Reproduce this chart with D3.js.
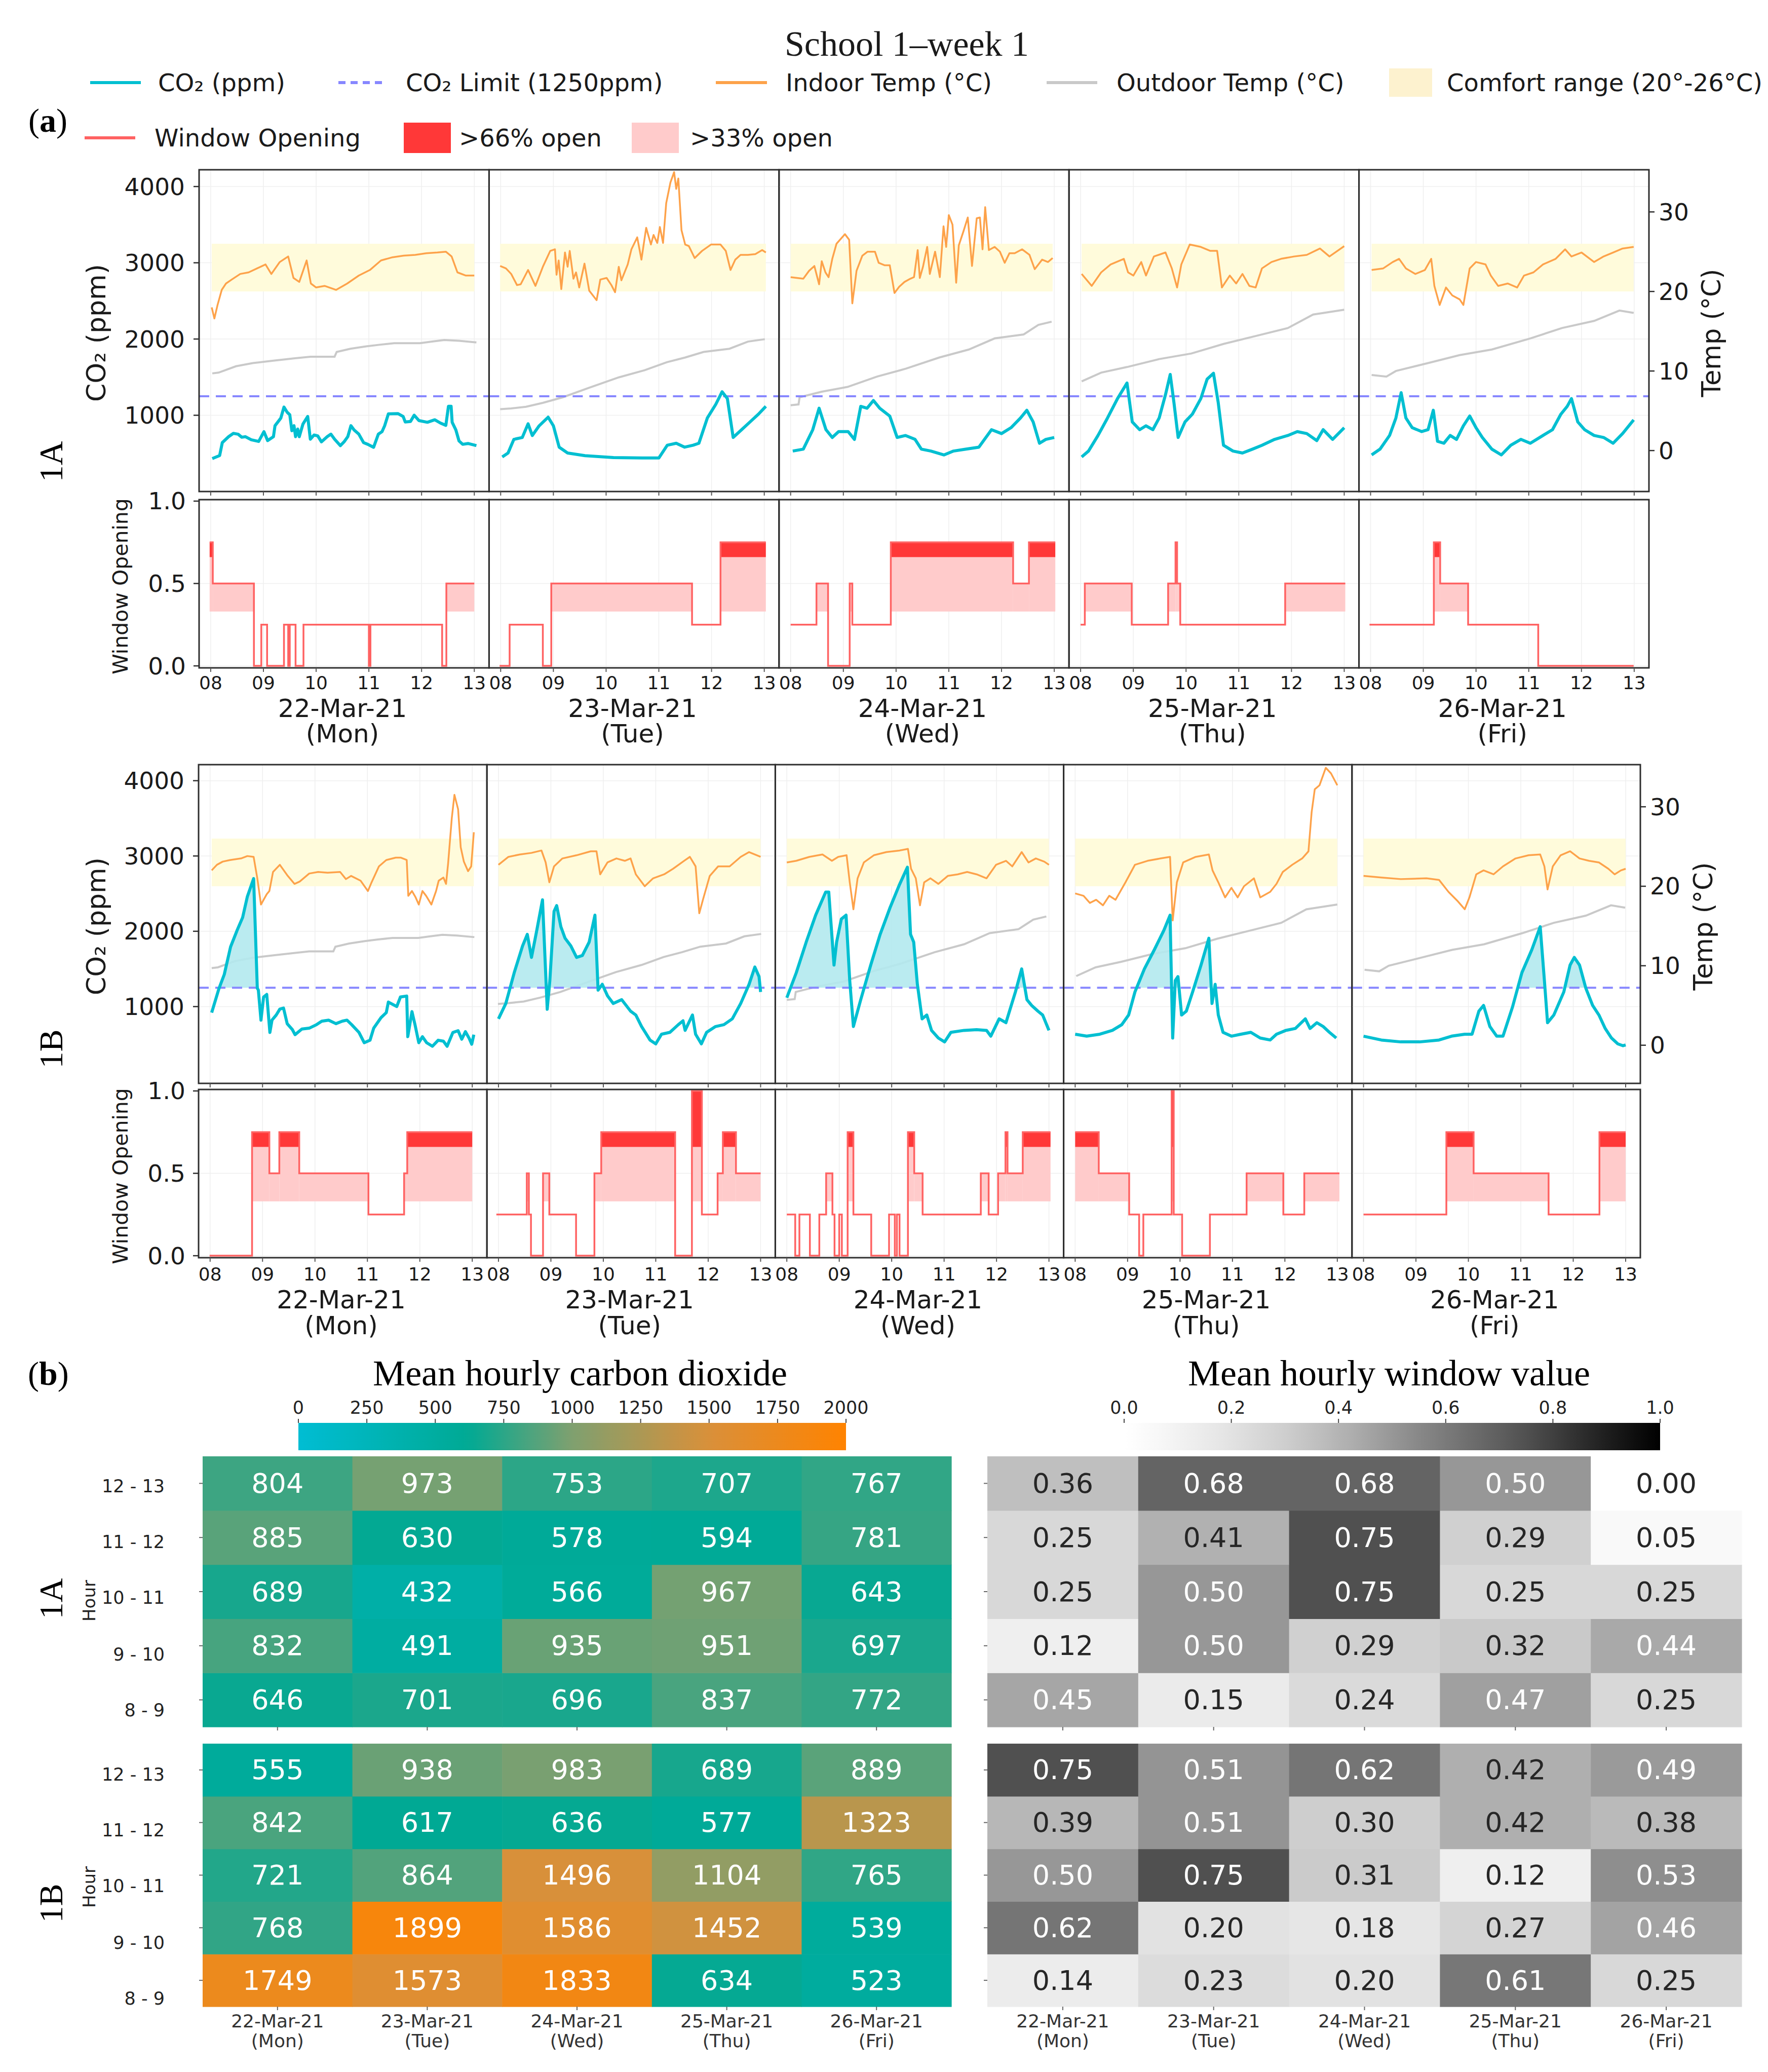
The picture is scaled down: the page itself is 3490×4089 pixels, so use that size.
<!DOCTYPE html>
<html><head><meta charset="utf-8">
<script src="https://cdn.jsdelivr.net/npm/d3@7"></script>
<style>body{margin:0;background:#fff}svg{display:block}</style>
</head><body>
<svg id="c" width="3490" height="4089"></svg>
<script>
// ---------------- DATA ----------------
const days = ["22-Mar-21","23-Mar-21","24-Mar-21","25-Mar-21","26-Mar-21"];
const weekdays = ["(Mon)","(Tue)","(Wed)","(Thu)","(Fri)"];
const hourTicks = [8,9,10,11,12,13];
const hourTickLabels = ["08","09","10","11","12","13"];
const co2Ticks = [1000,2000,3000,4000];
const tempTicks = [0,10,20,30];
const winTicks = [0,0.5,1.0];
const hourBins = ["8 - 9","9 - 10","10 - 11","11 - 12","12 - 13"];
const co2Limit = 1250;
const comfortRange = [20,26];
const openThresholds = [0.33,0.66];
const co2BarTicks = [0,250,500,750,1000,1250,1500,1750,2000];
const winBarTicks = [0,0.2,0.4,0.6,0.8,1.0];

// CO2 (ppm) per day, [hour, ppm]
const co2_1A = [
 [[8.03,432],[8.17,472],[8.22,641],[8.34,719],[8.43,763],[8.52,752],[8.59,712],[8.66,719],[8.77,679],[8.91,657],[9.01,785],[9.08,668],[9.19,719],[9.22,863],[9.33,963],[9.39,1107],[9.45,1040],[9.5,1007],[9.54,797],[9.58,863],[9.61,719],[9.65,819],[9.68,719],[9.75,885],[9.84,985],[9.89,686],[9.96,741],[10.03,730],[10.1,652],[10.21,719],[10.28,752],[10.35,686],[10.46,602],[10.53,652],[10.6,719],[10.66,863],[10.72,807],[10.81,752],[10.9,641],[10.98,619],[11.09,580],[11.18,752],[11.25,785],[11.3,863],[11.37,1018],[11.55,1022],[11.65,985],[11.69,912],[11.79,919],[11.86,1001],[11.95,930],[12.11,908],[12.25,941],[12.36,897],[12.46,868],[12.51,1118],[12.56,1118],[12.58,908],[12.65,808],[12.71,664],[12.78,619],[12.88,630],[13.04,602]],
 [[8.03,454],[8.14,505],[8.25,684],[8.41,709],[8.52,888],[8.60,735],[8.73,862],[8.90,975],[9.0,862],[9.11,582],[9.27,505],[9.6,470],[10.14,445],[10.68,440],[11.0,440],[11.16,607],[11.33,633],[11.49,582],[11.65,607],[11.76,633],[11.92,964],[12.08,1143],[12.2,1308],[12.30,1219],[12.41,709],[12.57,811],[12.73,913],[12.89,1015],[13.03,1117]],
 [[8.04,531],[8.24,556],[8.42,811],[8.54,1092],[8.67,811],[8.79,709],[8.91,786],[9.09,786],[9.21,684],[9.33,1117],[9.45,1092],[9.57,1194],[9.69,1092],[9.88,990],[10.02,709],[10.18,735],[10.36,684],[10.48,556],[10.66,531],[10.91,480],[11.09,531],[11.33,556],[11.57,582],[11.81,811],[12.0,760],[12.18,837],[12.36,964],[12.48,1066],[12.6,913],[12.72,633],[12.84,684],[13.0,709]],
 [[8.02,454],[8.15,531],[8.33,735],[8.51,964],[8.70,1219],[8.88,1423],[8.98,913],[9.12,811],[9.24,862],[9.37,811],[9.49,964],[9.61,1270],[9.70,1535],[9.77,1168],[9.85,709],[9.98,913],[10.12,1015],[10.28,1219],[10.40,1474],[10.52,1551],[10.61,1168],[10.71,607],[10.89,531],[11.07,505],[11.26,556],[11.44,607],[11.68,684],[11.93,735],[12.11,786],[12.29,760],[12.48,668],[12.60,811],[12.78,684],[13.0,837]],
 [[8.02,480],[8.18,556],[8.36,735],[8.48,964],[8.58,1296],[8.67,964],[8.79,837],[8.97,786],[9.09,811],[9.19,1066],[9.27,658],[9.39,633],[9.51,735],[9.63,684],[9.76,862],[9.88,990],[10.0,837],[10.12,709],[10.30,556],[10.48,480],[10.66,607],[10.85,684],[11.03,633],[11.27,735],[11.45,811],[11.61,1015],[11.73,1117],[11.81,1219],[11.93,913],[12.06,811],[12.24,735],[12.42,709],[12.6,633],[12.78,760],[12.99,939]]
];
const co2_1B = [
 [[8.03,920],[8.17,1242],[8.27,1427],[8.39,1793],[8.52,2022],[8.62,2183],[8.71,2460],[8.83,2700],[8.9,1242],[8.92,1220],[8.97,820],[9.02,1127],[9.08,1161],[9.14,656],[9.18,820],[9.26,887],[9.33,967],[9.4,980],[9.47,773],[9.57,693],[9.62,627],[9.75,702],[9.89,713],[10.03,760],[10.13,806],[10.26,820],[10.4,773],[10.52,806],[10.61,820],[10.7,760],[10.84,656],[10.94,520],[11.05,553],[11.12,713],[11.26,853],[11.36,920],[11.4,1060],[11.56,1000],[11.63,1127],[11.75,1140],[11.77,600],[11.85,933],[11.91,753],[11.98,520],[12.05,600],[12.13,520],[12.24,473],[12.35,553],[12.45,540],[12.52,473],[12.63,656],[12.73,680],[12.8,567],[12.87,667],[12.94,580],[12.99,500],[13.03,627]],
 [[8.0,837],[8.14,1041],[8.30,1449],[8.46,1806],[8.55,1959],[8.63,1653],[8.73,2010],[8.84,2418],[8.93,964],[8.98,1347],[9.06,2265],[9.11,2341],[9.19,2061],[9.27,1908],[9.38,1806],[9.49,1653],[9.6,1678],[9.73,1857],[9.84,2214],[9.90,1219],[9.98,1296],[10.08,1143],[10.19,1041],[10.35,1092],[10.52,939],[10.62,888],[10.73,735],[10.89,556],[11.0,505],[11.11,633],[11.27,658],[11.43,760],[11.52,811],[11.56,684],[11.70,888],[11.76,633],[11.87,505],[11.97,658],[12.14,735],[12.30,760],[12.46,837],[12.62,1041],[12.78,1296],[12.89,1525],[12.97,1398],[13.0,1194]],
 [[8.0,1117],[8.18,1449],[8.37,1857],[8.55,2214],[8.74,2520],[8.80,2520],[8.9,1551],[8.95,1857],[9.04,2163],[9.13,2214],[9.2,1347],[9.27,735],[9.41,1092],[9.6,1551],[9.78,1959],[9.97,2316],[10.15,2622],[10.3,2851],[10.36,1959],[10.42,1857],[10.49,1296],[10.58,837],[10.67,888],[10.76,684],[10.89,582],[11.01,531],[11.13,658],[11.38,684],[11.62,694],[11.81,684],[11.89,607],[12.05,837],[12.18,786],[12.36,1194],[12.48,1500],[12.58,1092],[12.67,1015],[12.79,939],[12.88,888],[13.0,684]],
 [[8.0,633],[8.22,607],[8.47,633],[8.71,684],[8.89,760],[9.02,888],[9.14,1194],[9.32,1500],[9.51,1755],[9.69,2010],[9.81,2214],[9.86,582],[9.91,1347],[9.96,1398],[10.03,888],[10.12,939],[10.24,1194],[10.4,1551],[10.55,1908],[10.61,1041],[10.67,1296],[10.73,888],[10.82,658],[10.98,607],[11.16,633],[11.35,658],[11.53,582],[11.72,556],[11.84,633],[12.02,684],[12.2,709],[12.39,837],[12.48,709],[12.61,786],[12.73,735],[12.85,658],[12.98,582]],
 [[8.0,607],[8.34,556],[8.71,531],[9.07,531],[9.44,556],[9.68,607],[9.93,633],[10.07,633],[10.2,939],[10.29,1015],[10.41,735],[10.54,607],[10.66,607],[10.84,990],[11.02,1449],[11.21,1755],[11.37,2061],[11.45,1347],[11.51,786],[11.63,888],[11.82,1194],[11.94,1551],[12.02,1653],[12.12,1551],[12.24,1245],[12.37,1015],[12.49,888],[12.61,709],[12.73,582],[12.85,505],[12.95,480],[13.0,490]]
];

// Indoor temperature (°C), [hour, °C]
const temp_1A = [
 [[8.02,18.0],[8.07,16.6],[8.13,18.3],[8.21,20.2],[8.29,21.0],[8.40,21.5],[8.56,22.2],[8.72,22.4],[8.88,22.9],[9.04,23.4],[9.15,22.2],[9.31,23.7],[9.47,24.4],[9.57,21.7],[9.68,21.2],[9.82,23.9],[9.90,21.0],[10.0,20.5],[10.16,20.7],[10.38,20.2],[10.59,21.0],[10.81,22.0],[11.02,22.7],[11.23,23.9],[11.45,24.3],[11.66,24.5],[11.88,24.6],[12.09,24.8],[12.30,24.9],[12.46,25.0],[12.57,24.4],[12.68,22.4],[12.84,22.0],[13.0,22.0]],
 [[7.99,23.2],[8.10,22.9],[8.2,22.2],[8.31,20.8],[8.38,20.9],[8.52,22.7],[8.66,20.7],[8.8,23.1],[8.94,25.1],[9.03,25.3],[9.06,22.1],[9.1,23.9],[9.15,20.3],[9.22,24.9],[9.27,23.1],[9.31,25.1],[9.38,21.6],[9.43,22.4],[9.49,20.5],[9.59,23.5],[9.68,20.1],[9.82,18.9],[9.89,21.5],[10.01,21.7],[10.1,20.8],[10.17,19.9],[10.24,23.1],[10.29,21.4],[10.41,23.4],[10.48,25.3],[10.59,26.8],[10.67,24.0],[10.76,28.0],[10.85,25.9],[10.9,27.1],[10.97,26.1],[11.02,28.1],[11.08,26.1],[11.14,31.1],[11.22,33.7],[11.29,35.0],[11.33,32.9],[11.37,34.2],[11.43,27.7],[11.5,25.9],[11.57,25.7],[11.68,24.2],[11.82,25.1],[11.99,25.9],[12.17,25.9],[12.27,25.1],[12.36,22.7],[12.45,24.0],[12.55,24.6],[12.69,24.6],[12.83,24.7],[12.96,25.2],[13.03,24.9]],
 [[8.0,21.8],[8.24,21.6],[8.35,22.6],[8.45,23.2],[8.54,20.9],[8.59,23.8],[8.66,22.4],[8.72,21.8],[8.79,24.1],[8.87,26.0],[9.03,27.2],[9.11,26.5],[9.17,18.5],[9.25,22.6],[9.36,24.5],[9.46,25.0],[9.6,25.0],[9.67,23.6],[9.78,23.3],[9.88,23.3],[9.97,19.8],[10.06,20.6],[10.16,21.2],[10.27,21.6],[10.34,21.8],[10.41,25.2],[10.45,21.7],[10.51,23.1],[10.59,25.6],[10.64,22.2],[10.74,25.0],[10.83,21.8],[10.9,28.2],[10.95,25.6],[11.0,29.6],[11.07,28.4],[11.14,21.1],[11.19,25.8],[11.28,27.6],[11.36,29.3],[11.44,23.2],[11.53,29.2],[11.59,29.3],[11.64,25.3],[11.69,30.6],[11.76,25.2],[11.87,25.6],[11.97,25.0],[12.06,23.6],[12.15,24.8],[12.25,24.8],[12.39,25.3],[12.53,24.6],[12.63,22.8],[12.77,24.0],[12.88,23.7],[12.97,24.2]],
 [[8.02,22.2],[8.21,20.7],[8.39,22.4],[8.57,23.4],[8.82,24.1],[8.90,22.4],[9.0,22.0],[9.15,23.7],[9.24,22.0],[9.39,24.4],[9.61,24.9],[9.73,22.9],[9.83,20.5],[9.91,23.4],[10.07,25.9],[10.28,25.6],[10.46,25.1],[10.59,25.1],[10.68,20.5],[10.83,22.0],[10.95,21.0],[11.07,22.2],[11.2,20.7],[11.32,20.5],[11.44,22.9],[11.62,23.7],[11.8,24.1],[12.05,24.4],[12.29,24.6],[12.54,25.4],[12.72,24.4],[13.0,25.7]],
 [[8.02,22.7],[8.24,22.9],[8.42,23.7],[8.54,24.1],[8.67,22.9],[8.85,22.2],[9.03,22.7],[9.15,24.1],[9.21,20.7],[9.31,18.3],[9.43,20.5],[9.55,19.5],[9.69,19.0],[9.76,18.3],[9.88,22.9],[10.0,23.7],[10.18,23.4],[10.28,22.0],[10.42,20.7],[10.6,21.0],[10.78,20.5],[10.91,22.0],[11.09,22.4],[11.27,23.4],[11.51,24.1],[11.69,25.3],[11.81,24.4],[12.0,24.9],[12.24,23.7],[12.42,24.4],[12.6,24.9],[12.78,25.4],[12.99,25.6]]
];
const temp_1B = [
 [[8.03,22.0],[8.13,22.7],[8.24,23.1],[8.38,23.3],[8.59,23.5],[8.71,23.8],[8.83,23.7],[8.9,21.0],[8.97,17.7],[9.08,19.0],[9.13,19.4],[9.2,21.8],[9.33,22.7],[9.47,21.4],[9.61,20.3],[9.71,20.6],[9.89,21.6],[10.06,21.8],[10.24,21.7],[10.48,21.8],[10.59,20.9],[10.69,21.3],[10.87,20.7],[11.01,19.4],[11.08,20.5],[11.22,22.5],[11.36,23.3],[11.54,23.6],[11.64,23.6],[11.75,23.3],[11.78,18.8],[11.85,19.4],[11.92,18.6],[11.98,17.7],[12.05,19.4],[12.12,18.8],[12.22,17.7],[12.31,19.4],[12.36,20.7],[12.45,21.1],[12.5,20.3],[12.54,22.9],[12.61,28.6],[12.66,31.5],[12.73,29.7],[12.78,24.9],[12.84,23.1],[12.92,21.9],[12.98,22.5],[13.03,26.8]],
 [[8.0,22.7],[8.19,23.7],[8.41,24.0],[8.63,24.2],[8.82,24.5],[8.9,23.0],[8.97,20.5],[9.06,22.5],[9.22,23.5],[9.49,23.9],[9.76,24.4],[9.87,24.4],[9.94,21.5],[10.08,23.0],[10.25,23.5],[10.41,23.2],[10.52,23.5],[10.62,21.5],[10.79,20.0],[10.95,21.0],[11.16,21.5],[11.33,22.2],[11.54,23.2],[11.65,23.7],[11.76,22.5],[11.83,16.6],[11.9,18.3],[12.03,21.3],[12.19,22.5],[12.41,22.5],[12.62,23.7],[12.78,24.3],[13.0,23.7]],
 [[8.0,23.0],[8.18,23.2],[8.43,23.7],[8.68,24.0],[8.86,23.2],[8.98,23.7],[9.14,23.9],[9.2,20.5],[9.27,17.1],[9.35,21.0],[9.47,23.0],[9.66,23.9],[9.9,24.3],[10.15,24.5],[10.31,24.7],[10.37,22.2],[10.46,21.0],[10.54,17.6],[10.62,20.5],[10.74,21.0],[10.89,20.3],[11.07,21.3],[11.26,21.5],[11.44,21.8],[11.62,21.5],[11.81,21.0],[11.99,22.7],[12.18,23.2],[12.3,22.5],[12.48,24.3],[12.61,23.0],[12.75,23.5],[12.91,23.1],[13.0,22.7]],
 [[8.0,19.1],[8.16,18.8],[8.28,17.9],[8.4,18.3],[8.53,17.6],[8.65,18.8],[8.77,18.3],[8.96,20.5],[9.14,22.7],[9.38,23.2],[9.63,23.5],[9.81,23.7],[9.86,15.7],[9.94,20.5],[10.06,23.0],[10.3,23.7],[10.55,24.0],[10.62,22.0],[10.73,20.5],[10.86,18.6],[10.98,19.8],[11.1,18.6],[11.22,20.0],[11.41,21.0],[11.53,18.6],[11.72,19.3],[11.84,20.3],[11.96,21.8],[12.14,22.7],[12.33,23.5],[12.45,24.4],[12.51,29.3],[12.57,32.2],[12.66,32.7],[12.78,34.9],[12.88,34.2],[13.0,32.7]],
 [[8.0,21.3],[8.34,21.1],[8.71,20.9],[9.2,21.0],[9.44,20.8],[9.62,19.3],[9.8,18.1],[9.93,17.1],[10.02,18.6],[10.15,21.5],[10.29,22.0],[10.48,21.5],[10.66,22.5],[10.9,23.5],[11.15,23.9],[11.37,24.0],[11.45,22.5],[11.51,19.6],[11.61,22.5],[11.76,23.9],[11.94,24.4],[12.12,23.5],[12.3,23.2],[12.49,23.0],[12.67,22.2],[12.79,21.5],[12.91,22.0],[13.0,22.2]]
];

// Outdoor temperature (°C), same site for both rooms
const outdoorTemp = [
 [[8.03,9.7],[8.15,9.8],[8.48,10.6],[8.8,11.0],[9.19,11.3],[9.6,11.6],[9.89,11.8],[10.35,11.8],[10.39,12.4],[10.65,12.8],[10.95,13.1],[11.2,13.3],[11.48,13.5],[11.97,13.5],[12.2,13.7],[12.43,13.9],[12.71,13.8],[13.04,13.6]],
 [[7.99,5.2],[8.2,5.3],[8.48,5.5],[8.8,6.0],[9.18,6.7],[9.68,7.9],[10.24,9.2],[10.73,10.1],[11.15,11.1],[11.5,11.7],[11.85,12.4],[12.34,12.8],[12.69,13.7],[13.01,14.0]],
 [[8.0,5.7],[8.15,5.8],[8.17,6.7],[8.59,7.4],[9.08,8.0],[9.64,9.3],[10.19,10.3],[10.82,11.7],[11.38,12.7],[11.87,14.1],[12.42,14.6],[12.7,15.8],[12.95,16.2]],
 [[8.02,8.7],[8.39,9.8],[8.88,10.5],[9.49,11.5],[10.10,12.2],[10.71,13.4],[11.32,14.4],[11.93,15.4],[12.41,17.1],[13.0,17.7]],
 [[8.02,9.5],[8.3,9.3],[8.48,10.0],[9.09,11.0],[9.69,12.0],[10.3,12.7],[11.03,14.1],[11.63,15.4],[12.24,16.3],[12.72,17.6],[12.99,17.3]]
];

// Window opening (step values), [start hour, value]
const win_1A = [
 [[7.98,0.75],[8.04,0.5],[8.82,0],[8.96,0.25],[9.07,0],[9.39,0.25],[9.47,0],[9.5,0.25],[9.61,0],[9.76,0.25],[11.0,0],[11.03,0.25],[12.39,0],[12.47,0.5],[13.0,0.5]],
 [[7.98,0],[8.17,0.25],[8.80,0],[8.96,0.5],[11.63,0.25],[12.17,0.75],[13.03,0.75]],
 [[8.0,0.25],[8.49,0.5],[8.71,0],[9.12,0.5],[9.17,0.25],[9.9,0.75],[12.22,0.5],[12.52,0.75],[13.02,0.75]],
 [[8.0,0.25],[8.08,0.5],[8.97,0.25],[9.66,0.5],[9.8,0.75],[9.83,0.5],[9.89,0.25],[11.88,0.5],[13.02,0.5]],
 [[7.98,0.25],[9.2,0.75],[9.32,0.5],[9.85,0.25],[11.18,0],[12.99,0]]
];
const win_1B = [
 [[7.99,0],[8.8,0.75],[9.13,0.5],[9.32,0.75],[9.7,0.5],[11.02,0.25],[11.7,0.5],[11.76,0.75],[13.0,0.75]],
 [[7.96,0.25],[8.54,0.5],[8.58,0.25],[8.62,0],[8.85,0.5],[8.97,0.25],[9.48,0],[9.83,0.5],[9.96,0.75],[11.37,0],[11.69,1.0],[11.88,0.25],[12.18,0.5],[12.28,0.75],[12.53,0.5],[13.0,0.5]],
 [[8.0,0.25],[8.16,0],[8.24,0.25],[8.44,0],[8.62,0.25],[8.75,0.5],[8.87,0.25],[8.91,0],[9.0,0.25],[9.05,0],[9.16,0.75],[9.27,0.25],[9.61,0],[9.95,0.25],[10.06,0],[10.1,0.25],[10.15,0],[10.31,0.75],[10.43,0.5],[10.59,0.25],[11.7,0.5],[11.85,0.25],[12.03,0.5],[12.17,0.75],[12.21,0.5],[12.5,0.75],[13.03,0.75]],
 [[8.0,0.75],[8.45,0.5],[9.03,0.25],[9.22,0],[9.3,0.25],[9.84,1.0],[9.88,0.25],[10.04,0],[10.57,0.25],[11.27,0.5],[11.97,0.25],[12.37,0.5],[13.04,0.5]],
 [[8.0,0.25],[9.58,0.75],[10.1,0.5],[11.53,0.25],[12.5,0.75],[13.0,0.75]]
];

// Heatmaps: rows = hourBins (8-9 ... 12-13), columns = days
const co2Mean_1A = [[646,701,696,837,772],[832,491,935,951,697],[689,432,566,967,643],[885,630,578,594,781],[804,973,753,707,767]];
const co2Mean_1B = [[1749,1573,1833,634,523],[768,1899,1586,1452,539],[721,864,1496,1104,765],[842,617,636,577,1323],[555,938,983,689,889]];
const winMean_1A = [[0.45,0.15,0.24,0.47,0.25],[0.12,0.50,0.29,0.32,0.44],[0.25,0.50,0.75,0.25,0.25],[0.25,0.41,0.75,0.29,0.05],[0.36,0.68,0.68,0.50,0.00]];
const winMean_1B = [[0.14,0.23,0.20,0.61,0.25],[0.62,0.20,0.18,0.27,0.46],[0.50,0.75,0.31,0.12,0.53],[0.39,0.51,0.30,0.42,0.38],[0.75,0.51,0.62,0.42,0.49]];

// ---------------- DRAWING ----------------
const svg = d3.select("#c");
const SANS = "'DejaVu Sans', sans-serif";
const SERIF = "'Liberation Serif', 'Times New Roman', serif";
const COL = {co2:"#00bfd1", tin:"#fda24a", tout:"#c9c9c9", lim:"#8787ff", comfort:"#fffbdb",
  win:"#ff6262", hi:"#ff3838", mid:"#ffcbcb", co2fill:"#b2e9ee", spine:"#2e2e2e", grid:"#efefef", txt:"#1a1a1a"};

function txt(g, x, y, s, size, opt={}) {
  const t = g.append("text").attr("x", x).attr("y", y).text(s)
    .attr("font-family", opt.family || SANS).attr("font-size", size)
    .attr("fill", opt.fill || COL.txt).attr("text-anchor", opt.anchor || "middle")
    .attr("dominant-baseline", "central");
  if (opt.rotate) t.attr("transform", `rotate(${opt.rotate},${x},${y})`);
  if (opt.weight) t.attr("font-weight", opt.weight);
  return t;
}

// Title
txt(svg, 1790, 86, "School 1\u2013week 1", 70, {family: SERIF});

// Panel labels
function panelLabel(x, y, letter) {
  const t = svg.append("text").attr("x", x).attr("y", y).attr("font-family", SERIF)
    .attr("font-size", 66).attr("dominant-baseline", "central").attr("fill", "#000");
  t.append("tspan").text("(");
  t.append("tspan").text(letter).attr("font-weight", "bold");
  t.append("tspan").text(")");
}
panelLabel(56, 237, "a");
panelLabel(55, 2710, "b");

// Legend
const LG = svg.append("g");
const LFS = 48;
function legLine(x0, x1, y, color, dash) {
  const l = LG.append("line").attr("x1", x0).attr("x2", x1).attr("y1", y).attr("y2", y)
    .attr("stroke", color).attr("stroke-width", 6);
  if (dash) l.attr("stroke-dasharray", dash);
}
function legRect(x0, x1, y0, y1, color) {
  LG.append("rect").attr("x", x0).attr("y", y0).attr("width", x1 - x0).attr("height", y1 - y0).attr("fill", color);
}
legLine(178, 278, 163, COL.co2); txt(LG, 312, 163, "CO\u2082 (ppm)", LFS, {anchor: "start"});
legLine(668, 761, 163, COL.lim, "14,10"); txt(LG, 801, 163, "CO\u2082 Limit (1250ppm)", LFS, {anchor: "start"});
legLine(1413, 1514, 163, COL.tin); txt(LG, 1551, 163, "Indoor Temp (\u00B0C)", LFS, {anchor: "start"});
legLine(2066, 2166, 163, COL.tout); txt(LG, 2204, 163, "Outdoor Temp (\u00B0C)", LFS, {anchor: "start"});
legRect(2742, 2827, 135, 191, "#fdf2cf"); txt(LG, 2856, 163, "Comfort range (20\u00B0-26\u00B0C)", LFS, {anchor: "start"});
legLine(167, 267, 272, COL.win); txt(LG, 305, 272, "Window Opening", LFS, {anchor: "start"});
legRect(797, 890, 242, 302, COL.hi); txt(LG, 906, 272, ">66% open", LFS, {anchor: "start"});
legRect(1247, 1340, 242, 302, COL.mid); txt(LG, 1362, 272, ">33% open", LFS, {anchor: "start"});

// Time-series panels
const rooms = [
  {name: "1A", co2: co2_1A, tin: temp_1A, win: win_1A, fillAbove: false,
   x0: 393, pw: 572.4, top: [335, 970], bot: [986, 1318], cDom: [0, 4220], tDom: [-5.15, 35.3],
   tickY: 1347, dateY: 1398, dayY: 1448, roomY: 911, co2LabY: 657, winLabY: 1157, tempLabX: 3378},
  {name: "1B", co2: co2_1B, tin: temp_1B, win: win_1B, fillAbove: true,
   x0: 392, pw: 569.2, top: [1509, 2138], bot: [2150, 2482], cDom: [-20, 4213], tDom: [-4.8, 35.3],
   tickY: 2514, dateY: 2565, dayY: 2616, roomY: 2070, co2LabY: 1828, winLabY: 2321, tempLabX: 3362}
];
const xDom = [7.78, 13.28];
let clipId = 0;

function clipAbove(data, lim) {
  const out = [];
  data.forEach((d, i) => {
    if (i > 0) {
      const p = data[i - 1];
      if ((p[1] - lim) * (d[1] - lim) < 0) {
        const t = (lim - p[1]) / (d[1] - p[1]);
        out.push([p[0] + t * (d[0] - p[0]), lim]);
      }
    }
    out.push([d[0], Math.max(d[1], lim)]);
  });
  return out;
}

rooms.forEach(R => {
  const g = svg.append("g");
  const yC = d3.scaleLinear().domain(R.cDom).range([R.top[1], R.top[0]]);
  const yT = d3.scaleLinear().domain(R.tDom).range([R.top[1], R.top[0]]);
  const yW = d3.scaleLinear().domain([-0.012, 1.009]).range([R.bot[1], R.bot[0]]);

  days.forEach((day, d) => {
    const xl = R.x0 + d * R.pw, xr = xl + R.pw;
    const x = d3.scaleLinear().domain(xDom).range([xl, xr]);
    const cid1 = "clip" + (clipId++), cid2 = "clip" + (clipId++);
    const defs = g.append("defs");
    defs.append("clipPath").attr("id", cid1).append("rect").attr("x", xl).attr("y", R.top[0]).attr("width", R.pw).attr("height", R.top[1] - R.top[0]);
    defs.append("clipPath").attr("id", cid2).append("rect").attr("x", xl).attr("y", R.bot[0]).attr("width", R.pw).attr("height", R.bot[1] - R.bot[0]);

    // ---- top panel ----
    const gt = g.append("g").attr("clip-path", `url(#${cid1})`);
    hourTicks.forEach(h => gt.append("line").attr("x1", x(h)).attr("x2", x(h)).attr("y1", R.top[0]).attr("y2", R.top[1]).attr("stroke", COL.grid).attr("stroke-width", 1.5));
    co2Ticks.forEach(v => gt.append("line").attr("x1", xl).attr("x2", xr).attr("y1", yC(v)).attr("y2", yC(v)).attr("stroke", COL.grid).attr("stroke-width", 1.5));
    const ext = d3.extent(R.tin[d], p => p[0]);
    gt.append("rect").attr("x", x(ext[0])).attr("width", x(ext[1]) - x(ext[0]))
      .attr("y", yT(comfortRange[1])).attr("height", yT(comfortRange[0]) - yT(comfortRange[1])).attr("fill", COL.comfort);
    gt.append("path").datum(outdoorTemp[d]).attr("fill", "none").attr("stroke", COL.tout).attr("stroke-width", 4)
      .attr("d", d3.line().x(p => x(p[0])).y(p => yT(p[1])));
    gt.append("path").datum(R.tin[d]).attr("fill", "none").attr("stroke", COL.tin).attr("stroke-width", 3.5).attr("stroke-linejoin", "round")
      .attr("d", d3.line().x(p => x(p[0])).y(p => yT(p[1])));
    if (R.fillAbove) {
      gt.append("path").datum(clipAbove(R.co2[d], co2Limit)).attr("fill", COL.co2fill).attr("opacity", 0.9)
        .attr("d", d3.area().x(p => x(p[0])).y0(yC(co2Limit)).y1(p => yC(p[1])));
    }
    gt.append("line").attr("x1", xl).attr("x2", xr).attr("y1", yC(co2Limit)).attr("y2", yC(co2Limit))
      .attr("stroke", COL.lim).attr("stroke-width", 4).attr("stroke-dasharray", "20,13");
    gt.append("path").datum(R.co2[d]).attr("fill", "none").attr("stroke", COL.co2).attr("stroke-width", 6).attr("stroke-linejoin", "round")
      .attr("d", d3.line().x(p => x(p[0])).y(p => yC(p[1])));

    // ---- window panel ----
    const gw = g.append("g").attr("clip-path", `url(#${cid2})`);
    hourTicks.forEach(h => gw.append("line").attr("x1", x(h)).attr("x2", x(h)).attr("y1", R.bot[0]).attr("y2", R.bot[1]).attr("stroke", COL.grid).attr("stroke-width", 1.5));
    winTicks.forEach(v => gw.append("line").attr("x1", xl).attr("x2", xr).attr("y1", yW(v)).attr("y2", yW(v)).attr("stroke", COL.grid).attr("stroke-width", 1.5));
    const w = R.win[d];
    for (let i = 0; i < w.length - 1; i++) {
      const h0 = w[i][0], h1 = w[i + 1][0], v = w[i][1];
      if (v > openThresholds[0]) {
        const top = Math.min(v, openThresholds[1]);
        gw.append("rect").attr("x", x(h0)).attr("width", x(h1) - x(h0)).attr("y", yW(top)).attr("height", yW(openThresholds[0]) - yW(top)).attr("fill", COL.mid);
      }
      if (v > openThresholds[1]) {
        gw.append("rect").attr("x", x(h0)).attr("width", x(h1) - x(h0)).attr("y", yW(v)).attr("height", yW(openThresholds[1]) - yW(v)).attr("fill", COL.hi);
      }
    }
    gw.append("path").datum(w).attr("fill", "none").attr("stroke", COL.win).attr("stroke-width", 3.5)
      .attr("d", d3.line().x(p => x(p[0])).y(p => yW(p[1])).curve(d3.curveStepAfter));

    // frames
    [R.top, R.bot].forEach(yy => g.append("rect").attr("x", xl).attr("y", yy[0]).attr("width", R.pw).attr("height", yy[1] - yy[0])
      .attr("fill", "none").attr("stroke", COL.spine).attr("stroke-width", 3));

    // x ticks
    hourTicks.forEach((h, i) => {
      [R.top[1], R.bot[1]].forEach(yb => g.append("line").attr("x1", x(h)).attr("x2", x(h)).attr("y1", yb).attr("y2", yb + 8).attr("stroke", "#555").attr("stroke-width", 2));
      txt(g, x(h), R.tickY, hourTickLabels[i], 36);
    });
    const xc = x(10.5);
    txt(g, xc, R.dateY, day, 50);
    txt(g, xc, R.dayY, weekdays[d], 50);

    // left axes
    if (d === 0) {
      co2Ticks.forEach(v => {
        g.append("line").attr("x1", xl - 11).attr("x2", xl).attr("y1", yC(v)).attr("y2", yC(v)).attr("stroke", COL.spine).attr("stroke-width", 2.5);
        txt(g, xl - 28, yC(v), String(v), 47, {anchor: "end"});
      });
      winTicks.forEach(v => {
        g.append("line").attr("x1", xl - 11).attr("x2", xl).attr("y1", yW(v)).attr("y2", yW(v)).attr("stroke", COL.spine).attr("stroke-width", 2.5);
        txt(g, xl - 26, yW(v), v.toFixed(1), 47, {anchor: "end"});
      });
      txt(g, 190, R.co2LabY, "CO\u2082 (ppm)", 52, {rotate: -90});
      txt(g, 238, R.winLabY, "Window Opening", 41, {rotate: -90});
      txt(g, 100, R.roomY, R.name, 66, {rotate: -90, family: SERIF, fill: "#000"});
    }
    // right axis
    if (d === days.length - 1) {
      tempTicks.forEach(v => {
        g.append("line").attr("x1", xr).attr("x2", xr + 11).attr("y1", yT(v)).attr("y2", yT(v)).attr("stroke", COL.spine).attr("stroke-width", 2.5);
        txt(g, xr + 19, yT(v), String(v), 47, {anchor: "start"});
      });
      txt(g, R.tempLabX, R.co2LabY, "Temp (\u00B0C)", 51, {rotate: -90});
    }
  });
});

// ---------------- HEATMAPS ----------------
const co2Color = d3.scaleLinear().domain([0, 620, 1000, 1500, 2000])
  .range(["#00bdd3", "#00a994", "#7fa06f", "#d9903a", "#ff8300"]).clamp(true);
const winColor = v => d3.interpolateGreys(v);

const HM = [
  {title: "Mean hourly carbon dioxide", titleX: 1145, x: [400, 1878], data: [co2Mean_1A, co2Mean_1B],
   color: co2Color, fmt: v => String(v), tc: v => "#ffffff", labels: true,
   bar: {x: [589, 1670], ticks: co2BarTicks, dom: [0, 2000], fmt: v => String(v)}},
  {title: "Mean hourly window value", titleX: 2742, x: [1949, 3438], data: [winMean_1A, winMean_1B],
   color: winColor, fmt: v => v.toFixed(2), tc: v => v >= 0.43 ? "#ffffff" : "#262626", labels: false,
   bar: {x: [2219, 3277], ticks: winBarTicks, dom: [0, 1], fmt: v => v.toFixed(1)}}
];
const hmY = [[2874, 3408], [3441, 3960]];
const rowLabelY = [[3375, 3265, 3153, 3043, 2933], [3944, 3834, 3722, 3612, 3502]];
const hmRoomY = [3155, 3756];
const hourLabY = [3159, 3724];
const barY = [2808, 2862];

const gh = svg.append("g");
const defs = gh.append("defs");
HM.forEach((M, mi) => {
  txt(gh, M.titleX, 2710, M.title, 72, {family: SERIF, fill: "#000"});
  const bx = d3.scaleLinear().domain(M.bar.dom).range(M.bar.x);
  const gid = "grad" + mi;
  const grad = defs.append("linearGradient").attr("id", gid).attr("x1", "0%").attr("x2", "100%").attr("y1", "0%").attr("y2", "0%");
  d3.range(0, 1.0001, 0.02).forEach(t => {
    const v = M.bar.dom[0] + t * (M.bar.dom[1] - M.bar.dom[0]);
    grad.append("stop").attr("offset", (t * 100) + "%").attr("stop-color", M.color(v));
  });
  gh.append("rect").attr("x", M.bar.x[0]).attr("y", barY[0]).attr("width", M.bar.x[1] - M.bar.x[0]).attr("height", barY[1] - barY[0]).attr("fill", `url(#${gid})`);
  M.bar.ticks.forEach(v => {
    gh.append("line").attr("x1", bx(v)).attr("x2", bx(v)).attr("y1", barY[0] - 8).attr("y2", barY[0]).attr("stroke", "#444").attr("stroke-width", 2);
    txt(gh, bx(v), 2778, M.bar.fmt(v), 35, {fill: "#222"});
  });

  const xb = d3.scaleBand().domain(days).range(M.x);
  [0, 1].forEach(r => {
    const yb = d3.scaleBand().domain(hourBins.slice().reverse()).range(hmY[r]);
    M.data[r].forEach((row, ri) => {
      row.forEach((v, ci) => {
        const bx0 = xb(days[ci]), by0 = yb(hourBins[ri]);
        gh.append("rect").attr("x", bx0).attr("y", by0).attr("width", xb.bandwidth() + 0.6).attr("height", yb.bandwidth() + 0.6).attr("fill", M.color(v));
        txt(gh, bx0 + xb.bandwidth() / 2, by0 + yb.bandwidth() / 2, M.fmt(v), 54, {fill: M.tc(v)});
      });
      const yc = yb(hourBins[ri]) + yb.bandwidth() / 2;
      gh.append("line").attr("x1", M.x[0] - 7).attr("x2", M.x[0]).attr("y1", yc).attr("y2", yc).attr("stroke", "#666").attr("stroke-width", 2);
      if (M.labels) txt(gh, 325, rowLabelY[r][ri], hourBins[ri], 35, {anchor: "end", fill: "#222"});
    });
    days.forEach(dd => {
      const xc = xb(dd) + xb.bandwidth() / 2;
      gh.append("line").attr("x1", xc).attr("x2", xc).attr("y1", hmY[r][1]).attr("y2", hmY[r][1] + 7).attr("stroke", "#666").attr("stroke-width", 2);
    });
    if (M.labels) {
      txt(gh, 176, hourLabY[r], "Hour", 34, {rotate: -90, fill: "#222"});
      txt(gh, 100, hmRoomY[r], r === 0 ? "1A" : "1B", 66, {rotate: -90, family: SERIF, fill: "#000"});
    }
  });
  days.forEach((dd, i) => {
    const xc = xb(dd) + xb.bandwidth() / 2;
    txt(gh, xc, 3988, dd, 36, {fill: "#333"});
    txt(gh, xc, 4027, weekdays[i], 36, {fill: "#333"});
  });
});
</script>
</body></html>
